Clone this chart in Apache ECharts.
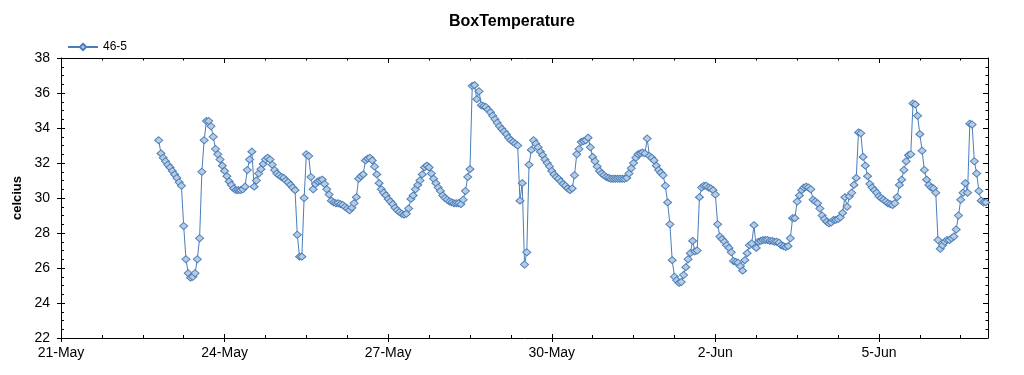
<!DOCTYPE html>
<html>
<head>
<meta charset="utf-8">
<script src="https://cdn.jsdelivr.net/npm/echarts@6/dist/echarts.min.js"></script>
<style>
html,body{margin:0;padding:0;background:#fff;}
#chart{width:1024px;height:375px;}
</style>
</head>
<body>
<div id="chart"></div>
<script>
// hours since 21-May 00:00; one reading per hour
var startHour = 43;
var temps = [
33.3, 32.55, 32.3, 32.1, 31.9, 31.75, 31.55, 31.35, 31.15, 30.9,
30.7, 28.4, 26.5, 25.7, 25.45, 25.5, 25.7, 26.5, 27.7, 31.5,
33.3, 34.4, 34.4, 34.1, 33.5, 32.8, 32.5, 32.2, 31.85, 31.55,
31.25, 30.95, 30.75, 30.55, 30.45, 30.45, 30.45, 30.5, 30.65, 31.6,
32.2, 32.65, 30.65, 31.0, 31.4, 31.65, 31.95, 32.2, 32.3, 32.2,
31.9, 31.6, 31.4, 31.3, 31.2, 31.15, 31.0, 30.9, 30.75, 30.6,
30.45, 27.9, 26.65, 26.65, 30.0, 32.5, 32.4, 31.2, 30.5, 30.8,
30.95, 31.0, 31.05, 30.8, 30.5, 30.2, 29.85, 29.75, 29.7, 29.7,
29.65, 29.6, 29.5, 29.4, 29.3, 29.45, 29.7, 30.05, 31.1, 31.25,
31.35, 32.15, 32.25, 32.3, 32.15, 31.8, 31.35, 30.85, 30.5, 30.3,
30.15, 29.95, 29.8, 29.65, 29.45, 29.3, 29.2, 29.1, 29.05, 29.1,
29.4, 29.95, 30.15, 30.5, 30.75, 31.0, 31.35, 31.75, 31.85, 31.75,
31.4, 31.1, 30.85, 30.6, 30.4, 30.15, 30.0, 29.9, 29.8, 29.75,
29.7, 29.7, 29.7, 29.65, 29.9, 30.4, 31.2, 31.65, 36.4, 36.45,
35.65, 36.1, 35.3, 35.25, 35.2, 35.05, 34.9, 34.7, 34.5, 34.3,
34.1, 33.95, 33.8, 33.65, 33.45, 33.3, 33.2, 33.1, 33.0, 29.85,
30.85, 26.2, 26.9, 31.9, 32.75, 33.3, 33.1, 32.9, 32.65, 32.45,
32.2, 32.0, 31.8, 31.55, 31.35, 31.2, 31.1, 30.95, 30.8, 30.7,
30.55, 30.45, 30.55, 31.3, 32.5, 32.8, 33.2, 33.25, 33.3, 33.45,
32.9, 32.35, 32.1, 31.8, 31.55, 31.4, 31.3, 31.2, 31.15, 31.1,
31.1, 31.1, 31.1, 31.1, 31.1, 31.1, 31.15, 31.4, 31.7, 32.0,
32.3, 32.5, 32.55, 32.6, 32.55, 33.4, 32.4, 32.3, 32.15, 31.85,
31.6, 31.45, 31.3, 30.7, 29.75, 28.5, 26.45, 25.5, 25.3, 25.15,
25.2, 25.6, 26.05, 26.5, 26.85, 27.55, 26.95, 27.0, 30.05, 30.6,
30.7, 30.7, 30.6, 30.55, 30.45, 30.2, 28.5, 27.8, 27.65, 27.5,
27.3, 27.15, 26.9, 26.4, 26.35, 26.3, 26.1, 25.85, 26.45, 26.85,
27.3, 27.4, 28.45, 27.15, 27.5, 27.55, 27.6, 27.6, 27.6, 27.55,
27.55, 27.5, 27.5, 27.45, 27.3, 27.25, 27.2, 27.25, 27.7, 28.85,
28.85, 29.8, 30.15, 30.45, 30.6, 30.65, 30.6, 30.5, 29.9, 29.8,
29.7, 29.4, 29.0, 28.8, 28.65, 28.55, 28.6, 28.75, 28.75, 28.8,
28.9, 29.15, 30.05, 29.5, 30.1, 30.3, 30.75, 31.15, 33.75, 33.7,
32.35, 31.85, 31.25, 30.8, 30.6, 30.45, 30.3, 30.1, 30.0, 29.9,
29.8, 29.7, 29.65, 29.6, 29.7, 30.05, 30.75, 31.05, 31.6, 32.1,
32.45, 32.5, 35.4, 35.35, 34.7, 33.65, 32.7, 31.6, 31.05, 30.75,
30.6, 30.55, 30.3, 27.6, 27.1, 27.3, 27.5, 27.6, 27.6, 27.7,
27.8, 28.2, 29.0, 29.9, 30.3, 30.85, 30.3, 34.25, 34.2, 32.1,
31.4, 30.4, 29.85, 29.75, 29.75
];
var dateLabels = ['21-May', '24-May', '27-May', '30-May', '2-Jun', '5-Jun'];
var seriesName = '46-5';
var titleText = 'BoxTemperature';
var yName = 'celcius';

var data = temps.map(function (v, i) { return [startHour + i, v]; });

var FONT = 'Liberation Sans, Arial, sans-serif';
var black = '#000';
var X_MIN = 0, X_MAX = 408, Y_MIN = 22, Y_MAX = 38;

function xAx(opts) {
  return Object.assign({
    type: 'value', min: X_MIN, max: X_MAX, interval: 72,
    axisLine: { show: false, onZero: false, lineStyle: { color: black, width: 1 } },
    axisTick: { show: true, inside: true, length: 4, lineStyle: { color: black } },
    axisLabel: { show: false },
    splitLine: { show: false }
  }, opts);
}
function yAx(opts) {
  return Object.assign({
    type: 'value', min: Y_MIN, max: Y_MAX, interval: 2,
    axisLine: { show: false, onZero: false, lineStyle: { color: black, width: 1 } },
    axisTick: { show: true, inside: true, length: 4, lineStyle: { color: black } },
    axisLabel: { show: false },
    splitLine: { show: false }
  }, opts);
}

var chart = echarts.init(document.getElementById('chart'), null, { renderer: 'canvas' });
chart.setOption({
  animation: false,
  backgroundColor: '#fff',
  title: {
    text: titleText, left: 'center', top: 9,
    textStyle: { fontFamily: FONT, fontSize: 16, fontWeight: 'bold', color: black }
  },
  legend: {
    left: 62, top: 36, itemWidth: 30, itemHeight: 8, itemGap: 10,
    textStyle: { fontFamily: FONT, fontSize: 12, color: black },
    data: [seriesName]
  },
  grid: { left: 61, right: 36, top: 58, bottom: 37, containLabel: false },
  xAxis: [
    xAx({
      position: 'bottom',
      axisLine: { show: true, onZero: false, lineStyle: { color: black, width: 1 } },
      axisTick: { show: true, inside: false, length: 4, lineStyle: { color: black } },
      axisLabel: {
        show: true, margin: 8, color: black, fontFamily: FONT, fontSize: 14,
        showMaxLabel: false,
        formatter: function (v) {
          if (v % 72 !== 0) return '';
          var k = v / 72;
          return dateLabels[k] || '';
        }
      }
    }),
    xAx({ position: 'bottom', axisTick: { show: true, inside: true, length: 4, lineStyle: { color: black } } }),
    xAx({ position: 'bottom', interval: 18, axisTick: { show: true, inside: true, length: 3, lineStyle: { color: black } } }),
    xAx({
      position: 'top',
      axisLine: { show: true, onZero: false, lineStyle: { color: black, width: 1 } },
      axisTick: { show: true, inside: true, length: 5, lineStyle: { color: black } }
    }),
    xAx({ position: 'top', interval: 18, axisTick: { show: true, inside: true, length: 2.5, lineStyle: { color: black } } })
  ],
  yAxis: [
    yAx({
      position: 'left',
      name: yName, nameLocation: 'middle', nameGap: 37, nameRotate: 90,
      nameTextStyle: { fontFamily: FONT, fontSize: 13, fontWeight: 'bold', color: black },
      axisLine: { show: true, onZero: false, lineStyle: { color: black, width: 1 } },
      axisTick: { show: true, inside: false, length: 4, lineStyle: { color: black } },
      axisLabel: { show: true, margin: 11, color: black, fontFamily: FONT, fontSize: 14 }
    }),
    yAx({ position: 'left' }),
    yAx({ position: 'left', interval: 0.5, axisTick: { show: true, inside: true, length: 3, lineStyle: { color: black } } }),
    yAx({
      position: 'right',
      axisLine: { show: true, onZero: false, lineStyle: { color: black, width: 1 } },
      axisTick: { show: true, inside: true, length: 5, lineStyle: { color: black } }
    }),
    yAx({ position: 'right', interval: 0.5, axisTick: { show: true, inside: true, length: 2.5, lineStyle: { color: black } } })
  ],
  series: [{
    name: seriesName,
    type: 'line',
    xAxisIndex: 0,
    yAxisIndex: 0,
    data: data,
    showAllSymbol: true,
    symbol: 'diamond',
    symbolSize: [8, 7],
    lineStyle: { color: '#4a7ebb', width: 1 },
    itemStyle: { color: '#b7cce0', borderColor: '#4a7ebb', borderWidth: 1 },
    emphasis: { disabled: true }
  }]
});
</script>
</body>
</html>
